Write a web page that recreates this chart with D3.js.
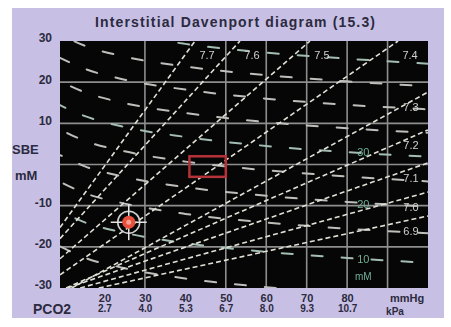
<!DOCTYPE html>
<html>
<head>
<meta charset="utf-8">
<script src="https://cdn.jsdelivr.net/npm/d3@7"></script>
<style>
  body { margin: 0; background: #fff; }
  text { font-family: "Liberation Sans", Arial, sans-serif; }
</style>
</head>
<body>
<div id="chart"></div>
<script>
// PCO2 axis (mmHg) and its kPa twin row
var pco2Ticks = [20, 30, 40, 50, 60, 70, 80]
var kpaLabels = ["2.7", "4.0", "5.3", "6.7", "8.0", "9.3", "10.7"]
var sbeTicks = [30, 20, 10, -10, -20, -30]
var gridPco2 = [30, 50, 60, 70, 80, 90]
var gridSbe = [20, 10, 0, -10, -20]

// pH isopleths, [pco2, sbe] where each line enters and leaves the plot
var phLabels = ["7.7", "7.6", "7.5", "7.4", "7.3", "7.2", "7.1", "7.0", "6.9"]
var phStart = [[9, -15.3], [9, -18], [9, -22.9], [9, -26.8], [11.9, -30], [10.5, -30], [10.9, -30], [14, -30], [18.6, -30]]
var phEnd = [[42.4, 30], [53.5, 30], [70.8, 30], [92.6, 30], [100, 17.6], [100, 8.4], [100, 0.4], [100, -6.7], [100, -12.5]]

// bicarbonate lines (mM), sbe read at these pco2 values
var hco3Values = [5, 10, 15, 20, 25, 30, 35, 40, 45, 50]
var hco3Pco2 = [9, 15, 25, 40, 60, 80, 100]
var hco3Sbe = [
    [-19.9, -22.6, -25.2, -27.7, -29.8, -31.3, -32.5],
    [-11.3, -14.0, -16.6, -19.1, -21.2, -22.7, -23.9],
    [-4.2, -6.9, -9.5, -12.0, -14.1, -15.6, -16.7],
    [2.3, -0.4, -3.0, -5.5, -7.6, -9.1, -10.2],
    [8.5, 5.8, 3.2, 0.7, -1.4, -2.9, -4.1],
    [14.4, 11.8, 9.1, 6.7, 4.5, 3.0, 1.9],
    [20.2, 17.6, 14.9, 12.5, 10.3, 8.8, 7.7],
    [25.9, 23.3, 20.6, 18.2, 16.0, 14.5, 13.4],
    [31.6, 28.9, 26.2, 23.8, 21.7, 20.2, 19.0],
    [37.1, 34.4, 31.8, 29.3, 27.2, 25.7, 24.5]
]
var hco3Labels = ["30", "20", "10"]
var hco3LabelSbe = [3, -9.5, -23]

var patientPoint = [26, -14]
var normalBox = [[41, -3], [50, 2]]

var width = 451, height = 327

var svg = d3.select('#chart').append('svg')
    .attr('width', width)
    .attr('height', height)

svg.append('rect')
    .attr('x', 12).attr('y', 8)
    .attr('width', 432).attr('height', 310)
    .attr('fill', '#c7c0e4')

var x = d3.scaleLinear().domain([9, 100]).range([60, 428])
var y = d3.scaleLinear().domain([-30, 30]).range([288, 41])

svg.append('rect')
    .attr('x', x(9)).attr('y', y(30))
    .attr('width', x(100) - x(9)).attr('height', y(-30) - y(30))
    .attr('fill', '#060606')

svg.append('clipPath').attr('id', 'plotClip')
    .append('rect')
    .attr('x', x(9)).attr('y', y(30))
    .attr('width', x(100) - x(9)).attr('height', y(-30) - y(30))

svg.append('filter').attr('id', 'soft')
    .append('feGaussianBlur').attr('stdDeviation', 0.45)

var plot = svg.append('g')
    .attr('clip-path', 'url(#plotClip)')
    .attr('filter', 'url(#soft)')

// grid
plot.selectAll('.vgrid').data(gridPco2).enter().append('line')
    .attr('x1', function(d) { return x(d) }).attr('x2', function(d) { return x(d) })
    .attr('y1', y(30)).attr('y2', y(-30))
    .attr('stroke', '#8e8e8e').attr('stroke-width', 1.6)
plot.selectAll('.hgrid').data(gridSbe).enter().append('line')
    .attr('x1', x(9)).attr('x2', x(100))
    .attr('y1', function(d) { return y(d) }).attr('y2', function(d) { return y(d) })
    .attr('stroke', '#8e8e8e').attr('stroke-width', 1.6)

// bicarbonate lines, long broken dashes
var hco3Line = d3.line()
    .x(function(d) { return x(d[0]) })
    .y(function(d) { return y(d[1]) })
    .curve(d3.curveMonotoneX)

plot.selectAll('.hco3').data(hco3Sbe).enter().append('path')
    .attr('d', function(row) {
        return hco3Line(row.map(function(v, i) { return [hco3Pco2[i], v] }))
    })
    .attr('fill', 'none')
    .attr('stroke', function(d, i) { return i % 4 == 1 ? '#a3bdb2' : '#bcbfba' })
    .attr('stroke-width', 2)
    .attr('stroke-linecap', 'round')
    .attr('stroke-dasharray', '11 19')
    .attr('stroke-dashoffset', function(d, i) { return (i * 13) % 30 })

// pH isopleths
plot.selectAll('.ph').data(phLabels).enter().append('line')
    .attr('x1', function(d, i) { return x(phStart[i][0]) })
    .attr('y1', function(d, i) { return y(phStart[i][1]) })
    .attr('x2', function(d, i) { return x(phEnd[i][0]) })
    .attr('y2', function(d, i) { return y(phEnd[i][1]) })
    .attr('stroke', '#e0e0d6')
    .attr('stroke-width', 1.6)
    .attr('stroke-dasharray', '5 3')

// pH labels, along the top and right edges
plot.selectAll('.phLabel').data(phLabels).enter().append('text')
    .attr('x', function(d, i) {
        return phEnd[i][1] >= 30 ? Math.min(x(phEnd[i][0]) + 12, 414) : 411
    })
    .attr('y', function(d, i) {
        return phEnd[i][1] >= 30 ? y(30) + 18 : y(phEnd[i][1]) + 19
    })
    .attr('text-anchor', 'middle')
    .attr('font-size', 11)
    .attr('fill', '#cfcfcf')
    .text(function(d) { return d })

plot.selectAll('.hco3Label').data(hco3Labels).enter().append('text')
    .attr('x', x(84))
    .attr('y', function(d, i) { return y(hco3LabelSbe[i]) + 4 })
    .attr('text-anchor', 'middle')
    .attr('font-size', 11)
    .attr('fill', '#6fae96')
    .text(function(d) { return d })
plot.append('text')
    .attr('x', x(84)).attr('y', y(-27) + 4)
    .attr('text-anchor', 'middle')
    .attr('font-size', 10)
    .attr('fill', '#6fae96')
    .text('mM')

// normal zone box
plot.append('rect')
    .attr('x', x(normalBox[0][0])).attr('y', y(normalBox[1][1]))
    .attr('width', x(normalBox[1][0]) - x(normalBox[0][0]))
    .attr('height', y(normalBox[0][1]) - y(normalBox[1][1]))
    .attr('fill', 'none')
    .attr('stroke', '#b53038')
    .attr('stroke-width', 2.5)

// patient marker with crosshair
var px = x(patientPoint[0]), py = y(patientPoint[1])
var marker = plot.append('g').attr('transform', 'translate(' + px + ',' + py + ')')
marker.append('circle').attr('r', 11)
    .attr('fill', 'none').attr('stroke', '#d0d0d0').attr('stroke-width', 1.5)
marker.append('line').attr('x1', -18).attr('x2', 18)
    .attr('stroke', '#e6e6e6').attr('stroke-width', 1.5)
marker.append('line').attr('y1', -18).attr('y2', 18)
    .attr('stroke', '#e6e6e6').attr('stroke-width', 1.5)
marker.append('circle').attr('r', 6.5).attr('fill', '#e8503c')
marker.append('circle').attr('r', 2.5).attr('fill', '#f6a090')

// axes: tick labels only
function bare(g) {
    g.select('.domain').remove()
    g.attr('font-family', '"Liberation Sans", Arial, sans-serif')
        .attr('font-weight', 'bold')
        .attr('fill', '#2c2a40')
    g.selectAll('text').attr('fill', '#2c2a40')
}

svg.append('g')
    .attr('transform', 'translate(0,' + y(-30) + ')')
    .call(d3.axisBottom(x).tickValues(pco2Ticks).tickSize(0).tickPadding(6))
    .call(bare)
    .attr('font-size', 11)

svg.append('g')
    .attr('transform', 'translate(0,' + (y(-30) + 11) + ')')
    .call(d3.axisBottom(x).tickValues(pco2Ticks).tickSize(0).tickPadding(6)
        .tickFormat(function(d, i) { return kpaLabels[i] }))
    .call(bare)
    .attr('font-size', 10)

svg.append('g')
    .attr('transform', 'translate(' + x(9) + ',-3)')
    .call(d3.axisLeft(y).tickValues(sbeTicks).tickSize(0).tickPadding(8)
        .tickFormat(function(d) { return String(d) }))
    .call(bare)
    .attr('font-size', 12)

var labelStyle = function(sel, size) {
    sel.attr('font-size', size).attr('font-weight', 'bold').attr('fill', '#2c2a40')
}
svg.append('text').attr('x', 407).attr('y', 302).attr('text-anchor', 'middle')
    .text('mmHg').call(labelStyle, 11)
svg.append('text').attr('x', 395).attr('y', 315).attr('text-anchor', 'middle')
    .text('kPa').call(labelStyle, 10)
svg.append('text').attr('x', 33).attr('y', 314)
    .text('PCO2').call(labelStyle, 14)
svg.append('text').attr('x', 12).attr('y', 154)
    .text('SBE').call(labelStyle, 13)
svg.append('text').attr('x', 15).attr('y', 180)
    .text('mM').call(labelStyle, 13)

svg.append('text')
    .attr('x', 95).attr('y', 27)
    .attr('textLength', 280).attr('lengthAdjust', 'spacing')
    .text('Interstitial Davenport  diagram  (15.3)')
    .call(labelStyle, 14)
</script>
</body>
</html>
